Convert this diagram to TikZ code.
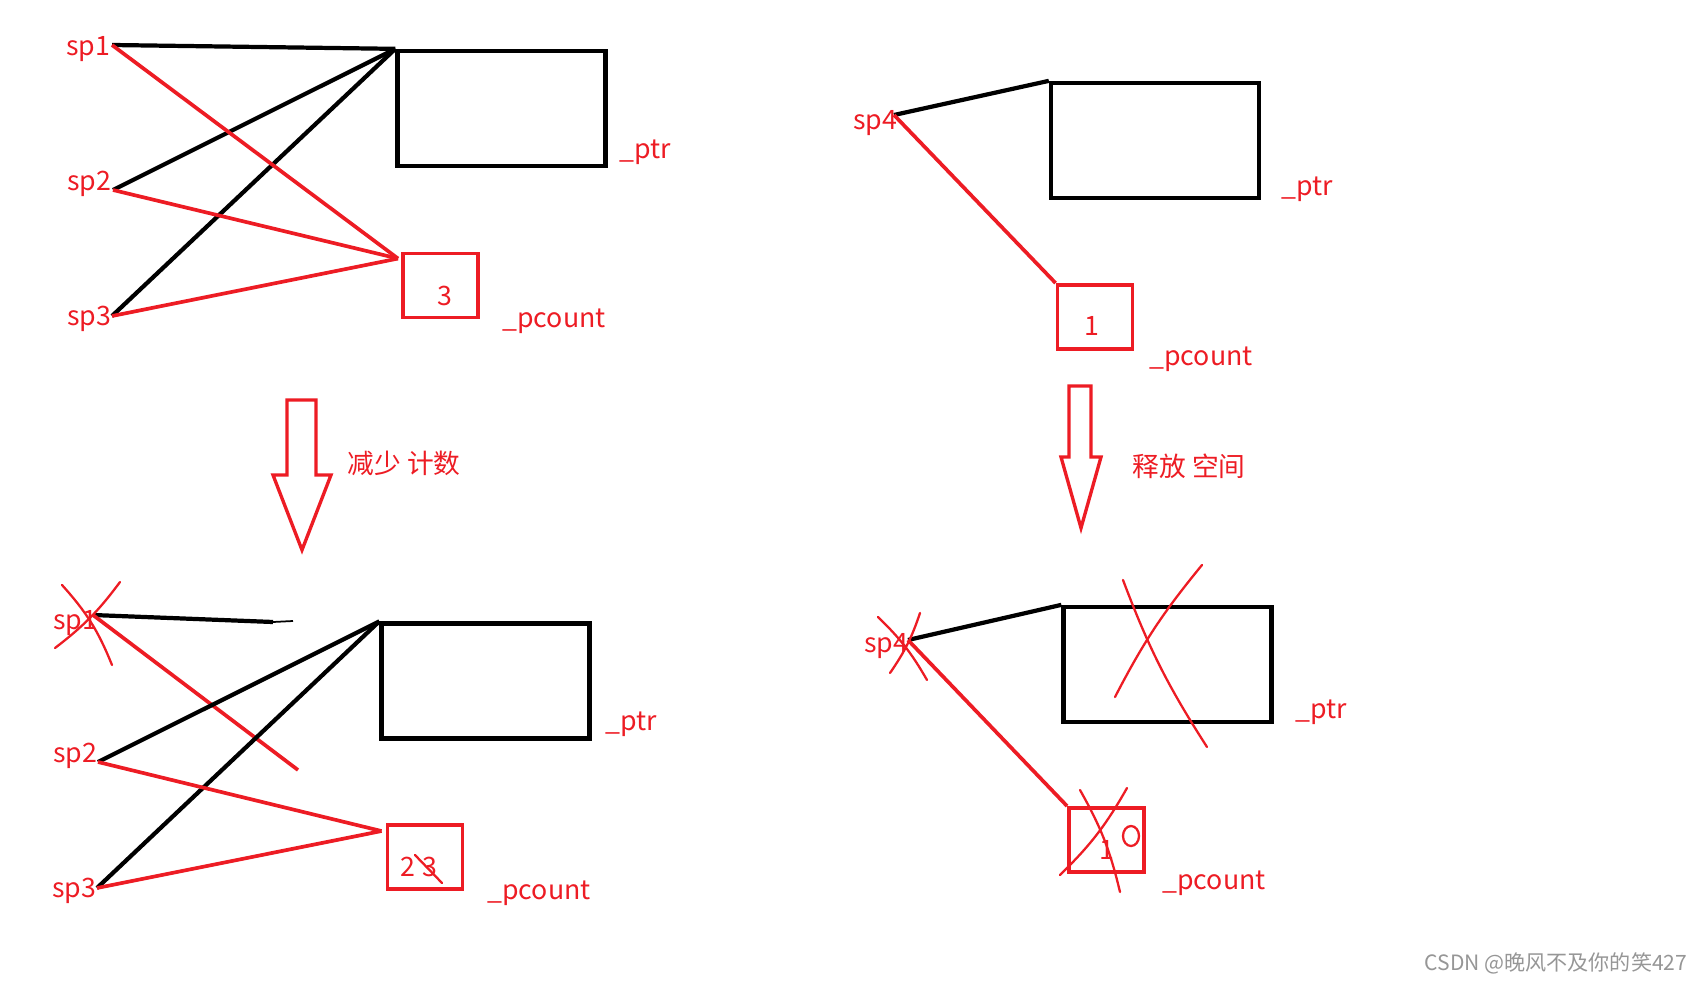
\documentclass[tikz,border=0pt]{standalone}
\usepackage{fontspec}
\setmainfont{Noto Sans CJK SC}
\usetikzlibrary{arrows.meta,positioning}
\definecolor{pred}{RGB}{237,28,36}
\definecolor{wmgray}{RGB}{150,150,150}

\begin{document}
\begin{tikzpicture}[x=0.01cm,y=-0.01cm,
  ptrbox/.style={draw=black,line width=1.2pt,minimum width=2.08cm,minimum height=1.15cm,inner sep=0pt},
  cntbox/.style={draw=pred,line width=1.1pt,minimum width=0.75cm,minimum height=0.64cm,inner sep=0pt},
  lbl/.style={text=pred,font=\fontsize{7.6}{9}\selectfont,inner sep=0pt},
  blk/.style={line width=1.2pt,black},
  rd/.style={line width=1.05pt,pred},
  scratch/.style={line width=0.65pt,pred,line cap=round},
  bigarr/.style={line width=0.95pt,pred,line join=miter}
]
  \useasboundingbox (0,0) rectangle (1706,982);
  % before: three pointers
  \node[lbl] (spA1) at (88,49) {sp1};
  \node[lbl] (spA2) at (89,184) {sp2};
  \node[lbl] (spA3) at (89,319) {sp3};
  \coordinate (a1) at (112,45);
  \coordinate (a2) at (113,190);
  \coordinate (a3) at (112,316);
  \node[ptrbox] (ptrA) at (501.5,108.5) {};
  \node[cntbox] (cntA) at (440.5,285.5) {};
  \node[lbl] (numA) at (445,296) {3};
  \node[lbl] (ptrlA) at (645,152) {\_ptr};
  \node[lbl] (cntlA) at (554,321) {\_pcount};
  \draw[blk] (a1) -- (ptrA.north west);
  \draw[blk] (a2) -- (ptrA.north west);
  \draw[blk] (a3) -- (ptrA.north west);
  \draw[rd] (a1) -- ([shift={(-3,7)}]cntA.north west);
  \draw[rd] (a2) -- ([shift={(-3,7)}]cntA.north west);
  \draw[rd] (a3) -- ([shift={(-3,7)}]cntA.north west);

  % before: last pointer
  \node[lbl] (spB4) at (875,123) {sp4};
  \coordinate (b4) at (894,115);
  \node[ptrbox] (ptrB) at (1155,140.5) {};
  \node[cntbox] (cntB) at (1095,317) {};
  \node[lbl] (numB) at (1092,326) {1};
  \node[lbl] (ptrlB) at (1307,189) {\_ptr};
  \node[lbl] (cntlB) at (1201,359) {\_pcount};
  \draw[blk] (b4) -- (ptrB.north west);
  \draw[rd] (b4) -- (cntB.north west);

  % Steps
  \draw[bigarr] (287,400) -- (316,400) -- (316,475) -- (331,475) -- (302,550)
    -- (273,475) -- (287,475) -- cycle;
  \node[lbl,anchor=west] (stepA) at (347,463) {减少 计数};
  \draw[bigarr] (1069,386) -- (1091,386) -- (1091,457) -- (1101,457) -- (1081,528)
    -- (1061,457) -- (1069,457) -- cycle;
  \node[lbl,anchor=west] (stepB) at (1132,466) {释放 空间};

  % after: sp1 gone
  \node[lbl] (spC1) at (75,623) {sp1};
  \node[lbl] (spC2) at (75,756) {sp2};
  \node[lbl] (spC3) at (74,891) {sp3};
  \coordinate (c1) at (93,615);
  \coordinate (c2) at (98,762);
  \coordinate (c3) at (97,888);
  \coordinate (c1end) at (273,622);
  \coordinate (c1tail) at (293,621);
  \coordinate (c1red) at (298,770);
  \node[ptrbox] (ptrC) at (485.5,681) {};
  \node[cntbox] (cntC) at (425,857) {};
  \node[lbl] (numCa) at (408,867) {2};
  \node[lbl] (numCb) at (430,867) {3};
  \node[lbl] (ptrlC) at (631,724) {\_ptr};
  \node[lbl] (cntlC) at (539,893) {\_pcount};
  \draw[blk] (c1) -- (c1end);
  \draw[black,line width=0.5pt] (c1end) -- (c1tail);
  \draw[rd] (c1) -- (c1red);
  \draw[blk] (c2) -- (ptrC.north west);
  \draw[blk] (c3) -- (ptrC.north west);
  \draw[rd] (c2) -- ([shift={(-4,8)}]cntC.north west);
  \draw[rd] (c3) -- ([shift={(-4,8)}]cntC.north west);
  \draw[scratch] (62,585) to[bend left=10] (112,665);
  \draw[scratch] (120,582) to[bend left=8] (55,648);
  \draw[scratch] (415,855) -- (442,883);

  % after: freed
  \node[lbl] (spD4) at (886,646) {sp4};
  \coordinate (d4) at (908,640);
  \node[ptrbox] (ptrD) at (1167.5,664.5) {};
  \node[cntbox] (cntD) at (1106.5,840) {};
  \node[lbl] (numD) at (1107,850) {1};
  \node[lbl] (ptrlD) at (1321,712) {\_ptr};
  \node[lbl] (cntlD) at (1214,883) {\_pcount};
  \draw[blk] (d4) -- (ptrD.north west);
  \draw[rd] (d4) -- (cntD.north west);
  \draw[scratch] (878,617) to[bend left=8] (927,680);
  \draw[scratch] (920,613) to[bend left=8] (890,673);
  \draw[scratch] (1123,580) to[bend right=6] (1207,747);
  \draw[scratch] (1202,565) to[bend right=6] (1115,697);
  \draw[scratch] (1080,790) to[bend left=8] (1120,892);
  \draw[scratch] (1127,788) to[bend left=8] (1060,875);
  \draw[scratch] (1131,836) ellipse [x radius=8,y radius=10];

  \node[font=\fontsize{6}{7}\selectfont,text=wmgray,anchor=east,inner sep=0pt] (wm) at (1688,963) {CSDN @晚风不及你的笑427};
\end{tikzpicture}
\end{document}
